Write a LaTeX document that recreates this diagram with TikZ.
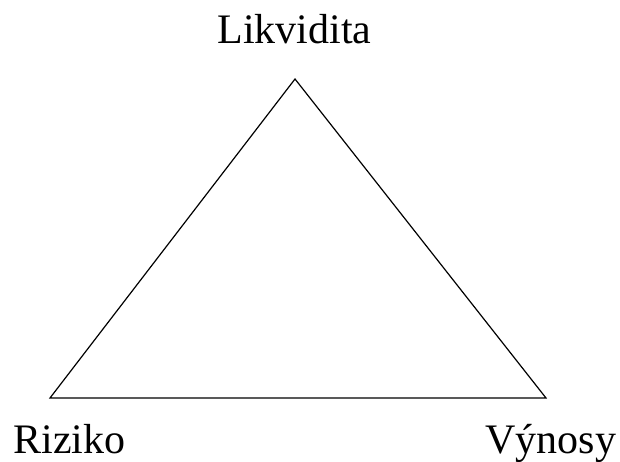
\documentclass[tikz,border=0pt]{standalone}
\usepackage{fontspec}
\setmainfont{Liberation Serif}
\usetikzlibrary{positioning}
\begin{document}
\begin{tikzpicture}[x=1pt, y=-1pt,
  every node/.style={font=\fontsize{42}{50}\selectfont, inner sep=0pt},
  corner/.style={anchor=base}]
  \useasboundingbox (0,0) rectangle (620,461);

  % Triangle corners
  \coordinate (top) at (295,79);
  \coordinate (left) at (50,398);
  \coordinate (right) at (546,398);
  \draw[line width=1.2pt] (top) -- (left) -- (right) -- cycle;

  % Labels at the corners
  \node[corner] (likvidita) at (294.5,43) {Likvidita};
  \node[corner] (riziko) at (69.5,453) {Riziko};
  \node[corner] (vynosy) at (551,453) {Výnosy};
\end{tikzpicture}
\end{document}
